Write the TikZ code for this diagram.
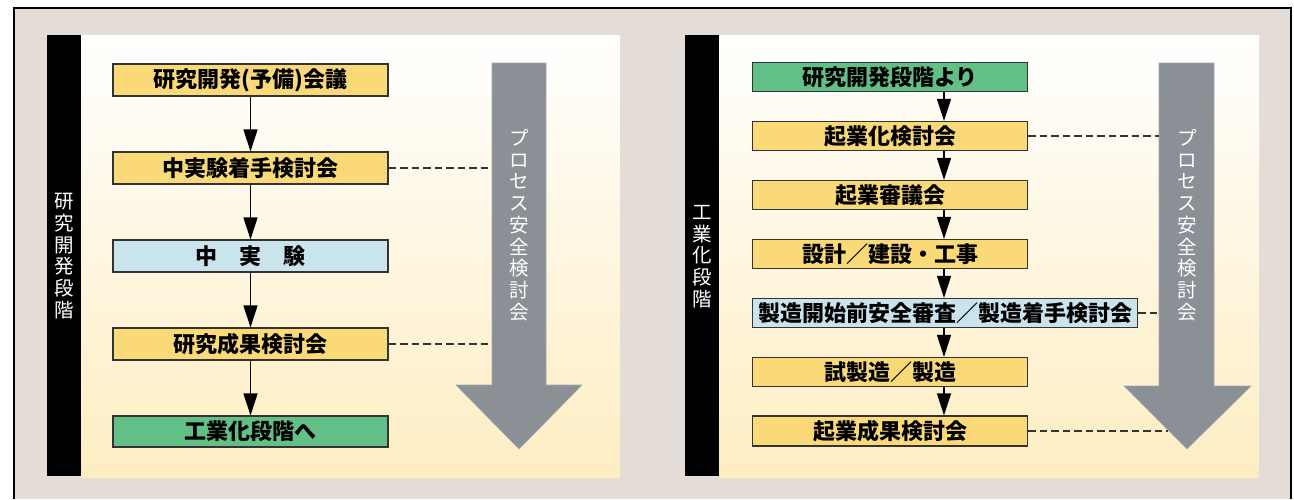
\documentclass[tikz,border=0pt]{standalone}
\usepackage{fontspec}
\newfontfamily\jp{Noto Sans CJK JP}
\usetikzlibrary{arrows.meta}
\definecolor{bgc}{HTML}{E3DCD7}
\definecolor{ylw}{HTML}{FAD978}
\definecolor{blu}{HTML}{C9E4EC}
\definecolor{grn}{HTML}{62BF86}
\definecolor{gry}{HTML}{8A9096}
\definecolor{gryedge}{HTML}{A3A8AC}
\definecolor{pbot}{HTML}{FDEDC2}
\definecolor{bordc}{HTML}{333333}
\tikzset{
  box/.style={draw=bordc, line width=1.2pt, minimum height=#1, inner sep=0pt,
    font=\jp\bfseries\fontsize{22}{22}\selectfont, text=black},
  box/.default=32pt,
  flow/.style={line width=1.3pt, -{Triangle[length=22pt,width=14pt]}},
  dashline/.style={draw=black!80, line width=1.2pt, dash pattern=on 7.5pt off 4pt},
  vlabel/.style={align=center, text=white, inner sep=0pt,
    font=\jp\fontsize{19.5}{21.7}\selectfont},
  bigarrow/.style={fill=gry, draw=gryedge, line width=0.6pt},
}
\begin{document}
\begin{tikzpicture}[x=1pt,y=1pt]
\useasboundingbox (0,0) rectangle (1294,-499);
\fill[white] (0,0) rectangle (1294,-499);
\fill[bgc] (14,-8) rectangle (1291,-499);
\draw[line width=1.2pt] (14,-499) |- (1291,-8) -- (1291,-499);

% ---------- left panel ----------
\fill[black] (47,-35) rectangle (81,-476);
\shade[top color=white, bottom color=pbot] (81,-35) rectangle (620,-477);
\node[vlabel] (LT) at (64,-256) {研\\究\\開\\発\\段\\階};

\path[bigarrow] (492,-63) -- (546,-63) -- (546,-385) -- (582,-385) -- (519,-449)
  -- (456,-385) -- (492,-385) -- cycle;
\node[vlabel] (LP) at (519,-225) {プ\\ロ\\セ\\ス\\安\\全\\検\\討\\会};
\coordinate (LS1) at (492,-168);
\coordinate (LS2) at (492,-344);

\node[box, fill=ylw, minimum width=275pt] (L1) at (250.5,-80) {研究開発(予備)会議};
\node[box, fill=ylw, minimum width=275pt] (L2) at (250.5,-168) {中実験着手検討会};
\node[box, fill=blu, minimum width=275pt] (L3) at (250.5,-256) {中　実　験};
\node[box, fill=ylw, minimum width=275pt] (L4) at (250.5,-344) {研究成果検討会};
\node[box, fill=grn, minimum width=275pt, minimum height=31pt] (L5) at (250.5,-431.5) {工業化段階へ};

\draw[flow] (L1) -- (L2);
\draw[flow] (L2) -- (L3);
\draw[flow] (L3) -- (L4);
\draw[flow] (L4) -- (L5);
\draw[dashline] (L2.east) -- (LS1);
\draw[dashline] (L4.east) -- (LS2);

% ---------- right panel ----------
\fill[black] (685,-35) rectangle (719,-476);
\shade[top color=white, bottom color=pbot] (719,-35) rectangle (1259,-477);
\node[vlabel] (RT) at (702,-256.5) {工\\業\\化\\段\\階};

\path[bigarrow] (1159,-63) -- (1214,-63) -- (1214,-386) -- (1251,-386) -- (1187,-449)
  -- (1124,-386) -- (1159,-386) -- cycle;
\node[vlabel] (RP) at (1187,-225) {プ\\ロ\\セ\\ス\\安\\全\\検\\討\\会};
\coordinate (RS1) at (1159,-136);
\coordinate (RS2) at (1159,-313);
\coordinate (RS3) at (1168,-431);

\node[box=29pt, fill=grn, minimum width=275pt, anchor=west] (R1) at (752,-77) {研究開発段階より};
\node[box=29pt, fill=ylw, minimum width=275pt, anchor=west] (R2) at (752,-136) {起業化検討会};
\node[box=29pt, fill=ylw, minimum width=275pt, anchor=west] (R3) at (752,-195) {起業審議会};
\node[box=29pt, fill=ylw, minimum width=275pt, anchor=west] (R4) at (752,-254) {設計／建設・工事};
\node[box=29pt, fill=blu, minimum width=385pt, anchor=west, inner xsep=4pt] (R5) at (752,-313) {製造開始前安全審査／製造着手検討会};
\node[box=29pt, fill=ylw, minimum width=275pt, anchor=west] (R6) at (752,-372) {試製造／製造};
\node[box=30pt, fill=ylw, minimum width=275pt, anchor=west] (R7) at (752,-431) {起業成果検討会};

\coordinate (AX) at (944,0);
\draw[flow] (R1.south -| AX) -- (R2.north -| AX);
\draw[flow] (R2.south -| AX) -- (R3.north -| AX);
\draw[flow] (R3.south -| AX) -- (R4.north -| AX);
\draw[flow] (R4.south -| AX) -- (R5.north -| AX);
\draw[flow] (R5.south -| AX) -- (R6.north -| AX);
\draw[flow] (R6.south -| AX) -- (R7.north -| AX);
\draw[dashline] (R2.east) -- (RS1);
\draw[dashline] (R5.east) -- (RS2);
\draw[dashline] (R7.east) -- (RS3);
\end{tikzpicture}
\end{document}
